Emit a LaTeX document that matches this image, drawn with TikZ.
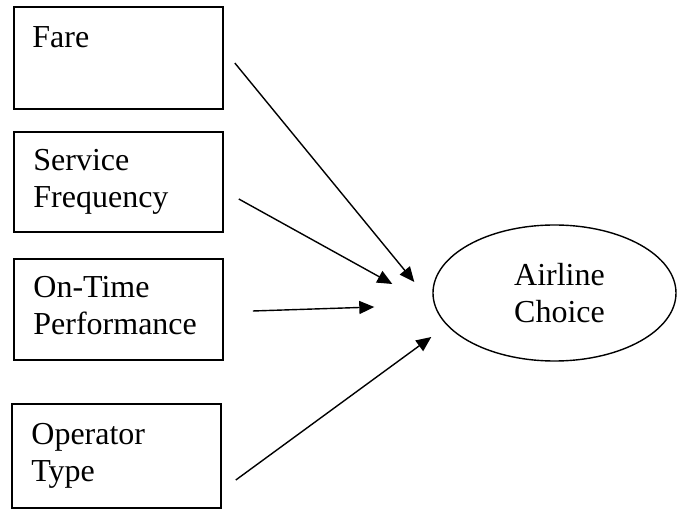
\documentclass[tikz,border=0pt]{standalone}
\usepackage{fontspec}
\setmainfont{Liberation Serif}
\usepackage{tikz}
\usetikzlibrary{arrows.meta,shapes.geometric}

\tikzset{
    factor/.style={draw, line width=1.6pt, inner sep=0pt, minimum width=209pt},
    factortext/.style={anchor=north west, inner sep=0pt, align=left},
    choice/.style={draw, ellipse, line width=1.4pt, inner sep=0pt, align=center},
    effect/.style={line width=1.4pt, -{Triangle[length=15pt,width=13pt]}}
}

\begin{document}
\begin{tikzpicture}[x=1pt, y=-1pt, font=\fontsize{32}{37}\selectfont]
    \useasboundingbox (0,0) rectangle (678,510);

    % factor boxes
    \node[factor, minimum height=102pt] (fare) at (118.5,58) {};
    \node[factor, minimum height=100pt] (service) at (118.5,182) {};
    \node[factor, minimum height=101pt] (ontime) at (118.5,309.5) {};
    \node[factor, minimum height=104pt] (operator) at (116.5,456) {};

    \node[factortext] (faretxt) at ([xshift=19pt,yshift=-20pt]fare.north west) {Fare};
    \node[factortext] (servicetxt) at ([xshift=20pt,yshift=-18pt]service.north west) {Service\\Frequency};
    \node[factortext] (ontimetxt) at ([xshift=20pt,yshift=-18pt]ontime.north west) {On-Time\\Performance};
    \node[factortext] (operatortxt) at ([xshift=20pt,yshift=-20pt]operator.north west) {Operator\\Type};

    % outcome
    \node[choice, minimum width=243pt, minimum height=136pt] (airline) at (554.5,293) {\hspace*{10pt}Airline\\\hspace*{10pt}Choice};

    % arrow ends
    \coordinate (fareout) at ([xshift=11pt,yshift=-5pt]fare.east);
    \coordinate (farein) at ([xshift=-18pt,yshift=11pt]airline.west);
    \coordinate (serviceout) at ([xshift=15pt,yshift=-17pt]service.east);
    \coordinate (servicein) at ([xshift=-40pt,yshift=9pt]airline.west);
    \coordinate (ontimeout) at ([xshift=29pt,yshift=-1.5pt]ontime.east);
    \coordinate (ontimein) at ([xshift=-58pt,yshift=-14pt]airline.west);
    \coordinate (operatorout) at ([xshift=14pt,yshift=-24pt]operator.east);
    \coordinate (operatorin) at ([xshift=-1pt,yshift=-44pt]airline.west);

    \draw[effect] (fareout) -- (farein);
    \draw[effect] (serviceout) -- (servicein);
    \draw[effect] (ontimeout) -- (ontimein);
    \draw[effect] (operatorout) -- (operatorin);
\end{tikzpicture}
\end{document}
